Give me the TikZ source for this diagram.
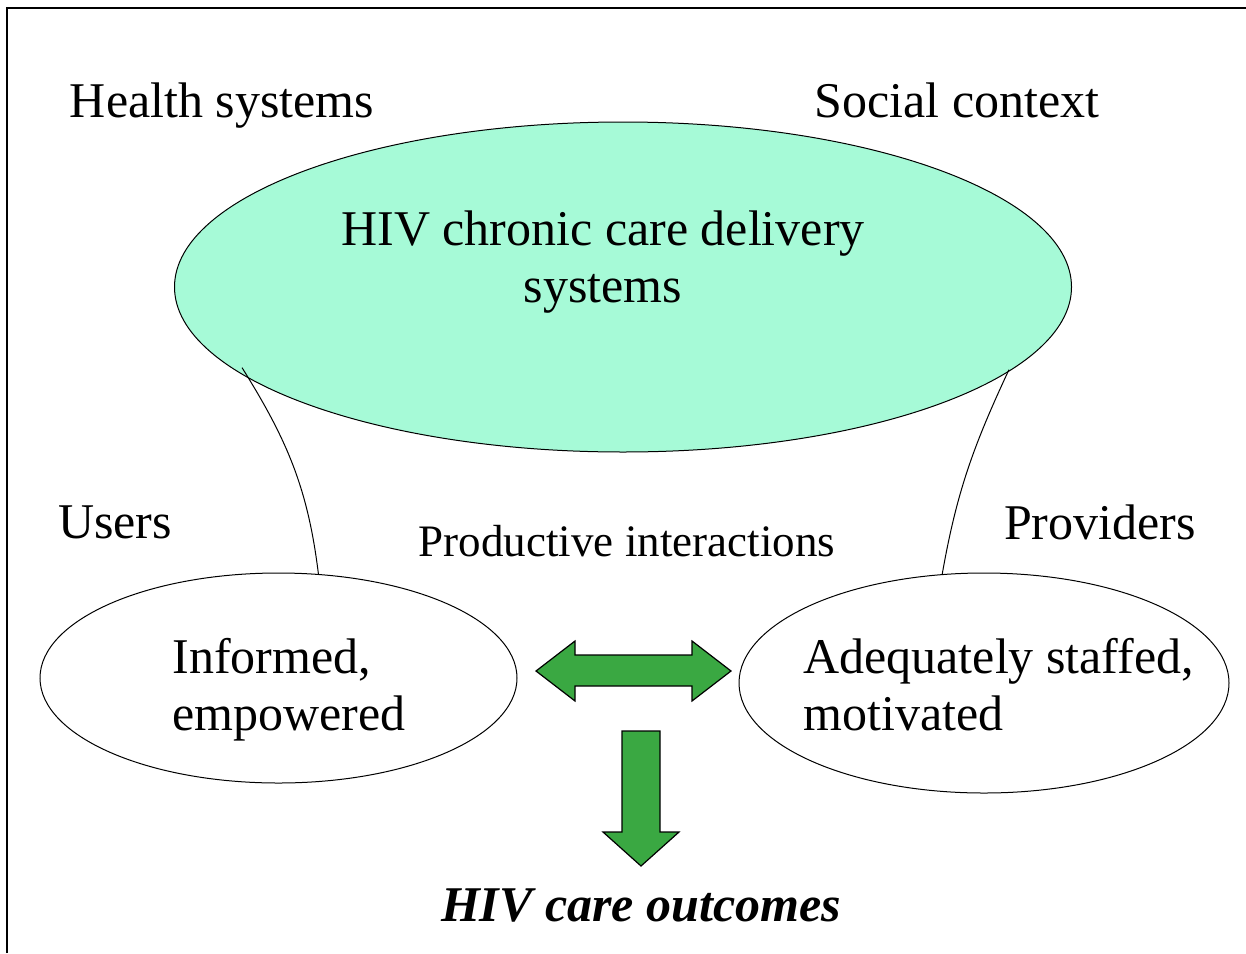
\documentclass[tikz,border=0pt]{standalone}
\usepackage{fontspec}
\setmainfont{Liberation Serif}
\usetikzlibrary{shapes.geometric,positioning}

\definecolor{careMint}{RGB}{166,250,215}
\definecolor{arrowGreen}{RGB}{58,168,66}

\begin{document}
\begin{tikzpicture}[
  x=0.5pt, y=-0.5pt,
  font=\fontsize{25}{28.5}\selectfont,
  oval/.style={draw, ellipse, line width=0.5pt, inner sep=0pt},
  lab/.style={inner sep=0pt, align=left},
  tie/.style={line width=0.5pt},
  blockarr/.style={draw, line width=0.6pt, fill=arrowGreen, line join=miter}
]
\useasboundingbox (0,0) rectangle (1246,953);

% ---------------- frame ----------------
\draw[line width=1pt] (7,953) -- (7,8) -- (1246,8);

% ---------------- top: delivery systems ----------------
\node[lab, anchor=base] (health) at (222,117) {Health systems};
\node[lab, anchor=base] (social) at (957,117) {Social context};
\node[oval, fill=careMint, minimum width=448.5pt, minimum height=165pt] (hiv) at (623,287) {};
\node[lab, align=center] (hivtxt) at (603,262) {HIV chronic care delivery\\systems};

% ---------------- users and providers ----------------
\node[lab] (users) at (115,522) {Users};
\node[lab] (prov) at (1100,522) {Providers};
\node[lab, font=\fontsize{22.5}{27}\selectfont] (prod) at (627,541) {Productive interactions};

\node[oval, minimum width=238.5pt, minimum height=105pt] (usr) at (278.5,678) {};
\node[lab, anchor=west] (usrtxt) at (172,690) {Informed,\\empowered};

\node[oval, minimum width=245pt, minimum height=110pt] (stf) at (984,683) {};
\node[lab, anchor=west] (stftxt) at (803,685) {Adequately staffed,\\motivated};

% thin ties hanging from the big oval
\draw[tie] ([shift={(8,-2)}]hiv.192) to[out=-58, in=97] (usr.69);
\draw[tie] ([shift={(-3,0)}]hiv.-12) to[out=-115, in=80] (stf.111);

% ---------------- block arrows ----------------
\draw[blockarr] (536,671) -- (575,641) -- (575,655) -- (692,655) -- (692,641)
  -- (731,671) -- (692,701) -- (692,686) -- (575,686) -- (575,701) -- cycle;
\draw[blockarr] (622,731) -- (660,731) -- (660,832) -- (679,832)
  -- (641,866) -- (603,832) -- (622,832) -- cycle;

\node[lab, font=\fontsize{25}{28.5}\selectfont\bfseries\itshape] (outc) at (641,905) {HIV care outcomes};

\end{tikzpicture}
\end{document}
